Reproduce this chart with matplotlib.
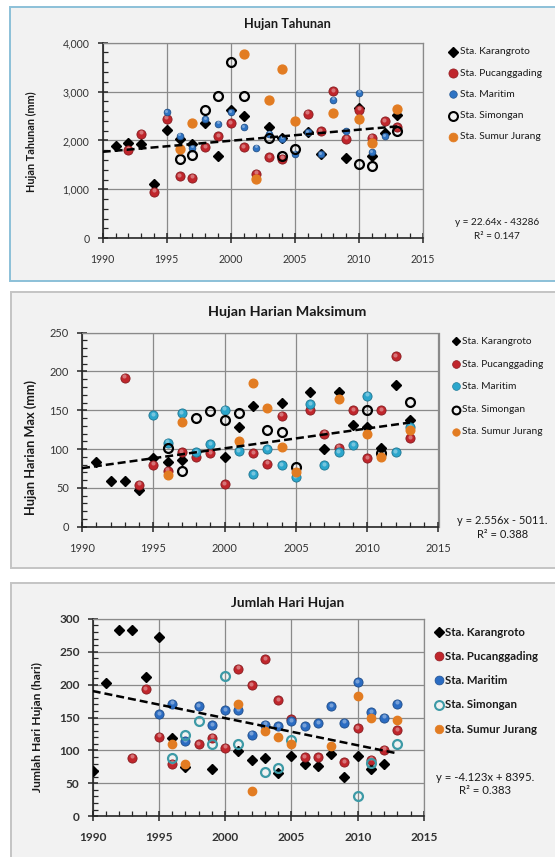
import matplotlib
matplotlib.use("Agg")
import matplotlib.pyplot as plt
from matplotlib.patches import Rectangle
from matplotlib.lines import Line2D
from matplotlib.ticker import MultipleLocator, FuncFormatter
import matplotlib.transforms as mtransforms
import numpy as np

plt.rcParams['font.family'] = ['Lato', 'DejaVu Sans']

W, H, DPI = 555, 857, 100

# ---------------- Hujan Tahunan (mm) ----------------
ht_karangroto_yr = [1991, 1992, 1993, 1994, 1995, 1996, 1997, 1998, 1999, 2000, 2001, 2003, 2004,
                    2006, 2007, 2009, 2010, 2011, 2012, 2013]
ht_karangroto = [1884, 1945, 1932, 1114, 2204, 2034, 1918, 2354, 1680, 2613, 2491, 2273, 2048,
                 2170, 1727, 1646, 2668, 1673, 2150, 2511]
ht_pucang_yr = [1992, 1993, 1994, 1995, 1996, 1997, 1998, 1999, 2000, 2001, 2002, 2003, 2004,
                2006, 2007, 2008, 2009, 2010, 2011, 2012, 2013]
ht_pucang = [1809, 2136, 950, 2443, 1271, 1237, 1864, 2089, 2354, 1864, 1318, 1659, 1625,
             2545, 2191, 3002, 2034, 2627, 2055, 2395, 2273]
ht_maritim_yr = [1995, 1996, 1997, 1998, 1999, 2000, 2001, 2002, 2003, 2004, 2005, 2006, 2007,
                 2008, 2009, 2010, 2011, 2012]
ht_maritim = [2579, 2095, 1850, 2429, 2341, 2579, 2273, 1850, 2136, 2034, 1727, 2170, 1714,
              2832, 2191, 2975, 1761, 2082]
ht_simongan_yr = [1996, 1997, 1998, 1999, 2000, 2001, 2003, 2004, 2005, 2010, 2011, 2013]
ht_simongan = [1625, 1693, 2613, 2900, 3602, 2900, 2055, 1673, 1830, 1509, 1468, 2191]
ht_sumur_yr = [1996, 1997, 2001, 2002, 2003, 2004, 2005, 2008, 2010, 2011, 2013]
ht_sumur = [1830, 2361, 3759, 1216, 2832, 3452, 2395, 2559, 2429, 1952, 2648]
ht_trend = (22.64, -43286)
ht_r2 = 0.147

# ---------------- Hujan Harian Maksimum (mm) ----------------
hm_karangroto_yr = [1991, 1992, 1993, 1994, 1995, 1996, 1997, 2000, 2001, 2002, 2004, 2006, 2007,
                    2008, 2009, 2010, 2011, 2012, 2013]
hm_karangroto = [83, 59, 59, 47, 88, 83, 86, 90, 128, 156, 160, 174, 100,
                 174, 131, 128, 101, 183, 137]
hm_pucang_yr = [1993, 1994, 1995, 1996, 1997, 1998, 1999, 2000, 2002, 2003, 2004, 2006, 2007,
                2008, 2009, 2010, 2011, 2012, 2013]
hm_pucang = [192, 54, 80, 72, 96, 90, 95, 55, 95, 81, 143, 150, 120,
             102, 150, 88, 150, 220, 114]
hm_maritim_yr = [1995, 1996, 1997, 1998, 1999, 2000, 2001, 2002, 2003, 2004, 2005, 2006, 2007,
                 2008, 2009, 2010, 2012, 2013]
hm_maritim = [144, 108, 146, 96, 106, 151, 97, 68, 100, 79, 64, 158, 79,
              96, 105, 169, 96, 128]
hm_simongan_yr = [1996, 1997, 1998, 1999, 2000, 2001, 2003, 2004, 2005, 2010, 2011, 2013]
hm_simongan = [102, 72, 140, 149, 137, 146, 125, 122, 77, 150, 95, 161]
hm_sumur_yr = [1996, 1997, 2001, 2002, 2003, 2004, 2005, 2008, 2010, 2011, 2013]
hm_sumur = [66, 135, 110, 185, 153, 103, 71, 165, 120, 90, 125]
hm_trend = (2.556, -5011)
hm_r2 = 0.388

# ---------------- Jumlah Hari Hujan (hari) ----------------
jh_karangroto_yr = [1990, 1991, 1992, 1993, 1994, 1995, 1996, 1997, 1999, 2001, 2002, 2003, 2004,
                    2005, 2006, 2007, 2008, 2009, 2010, 2011, 2012]
jh_karangroto = [69, 203, 283, 283, 212, 272, 119, 75, 72, 99, 85, 88, 66,
                 92, 80, 77, 95, 60, 91, 71, 79]
jh_pucang_yr = [1993, 1994, 1995, 1996, 1998, 1999, 2000, 2001, 2002, 2003, 2004, 2005, 2006,
                2007, 2009, 2010, 2011, 2012, 2013]
jh_pucang = [89, 193, 121, 80, 109, 119, 104, 224, 199, 239, 176, 147, 90,
             90, 82, 134, 86, 101, 131]
jh_maritim_yr = [1995, 1996, 1997, 1998, 1999, 2000, 2001, 2002, 2003, 2004, 2005, 2006, 2007,
                 2008, 2009, 2010, 2011, 2012, 2013]
jh_maritim = [155, 171, 114, 167, 138, 161, 161, 124, 139, 137, 144, 137, 141,
              167, 142, 204, 158, 150, 171]
jh_simongan_yr = [1996, 1997, 1998, 1999, 2000, 2001, 2003, 2004, 2005, 2010, 2011, 2013]
jh_simongan = [88, 124, 144, 110, 213, 109, 67, 73, 116, 30, 81, 110]
jh_sumur_yr = [1996, 1997, 2001, 2002, 2003, 2004, 2005, 2008, 2010, 2011, 2013]
jh_sumur = [109, 80, 171, 38, 129, 120, 109, 106, 182, 150, 146]
jh_trend = (-4.123, 8395)
jh_r2 = 0.383

station_names = ["Sta. Karangroto", "Sta. Pucanggading", "Sta. Maritim",
                 "Sta. Simongan", "Sta. Sumur Jurang"]

RED = "#c0262c"
ORANGE = "#e27c22"
BLACK = "#000000"

fig = plt.figure(figsize=(W / DPI, H / DPI), dpi=DPI)
fig.patch.set_facecolor("white")


def fx(px):
    return px / W


def fy(py):
    return 1 - py / H


def panel_frame(x0, y0, x1, y1, edge):
    fig.add_artist(Rectangle((fx(x0), fy(y1)), fx(x1) - fx(x0), fy(y0) - fy(y1),
                             transform=fig.transFigure, facecolor="#f2f2f2",
                             edgecolor=edge, linewidth=1.4, zorder=-10))


def lighten(c, f):
    r, g, b = matplotlib.colors.to_rgb(c)
    return (r + (1 - r) * f, g + (1 - g) * f, b + (1 - b) * f)


def darken(c, f):
    r, g, b = matplotlib.colors.to_rgb(c)
    return (r * f, g * f, b * f)


def series(ax, x, y, kind, color, size):
    """kind: diamond, sphere, flat, ring"""
    if kind == "diamond":
        ax.plot(x, y, ls="none", marker="D", ms=size, mfc=color, mec=color, zorder=3)
    elif kind == "sphere":
        ax.plot(x, y, ls="none", marker="o", ms=size, mfc=color,
                mec=darken(color, 0.7), mew=0.6, zorder=3)
        hl = mtransforms.offset_copy(ax.transData, fig=fig, x=-0.4, y=1.4, units="dots")
        ax.plot(x, y, ls="none", marker="o", ms=size * 0.45, mfc=lighten(color, 0.45),
                mec="none", alpha=0.8, transform=hl, zorder=3)
    elif kind == "flat":
        ax.plot(x, y, ls="none", marker="o", ms=size, mfc=color, mec=color, zorder=3)
    elif kind == "ring":
        ax.plot(x, y, ls="none", marker="o", ms=size, mfc="none", mec=color,
                mew=1.6, zorder=3)


def legend_entry(xm, xt, y, kind, color, size, label, fsize, weight):
    tr = fig.transFigure
    if kind == "diamond":
        fig.add_artist(Line2D([fx(xm)], [fy(y)], transform=tr, ls="none", marker="D",
                              ms=size * 0.8, mfc=color, mec=color))
    elif kind == "ring":
        fig.add_artist(Line2D([fx(xm)], [fy(y)], transform=tr, ls="none", marker="o",
                              ms=size, mfc="none", mec=color, mew=1.5))
    else:
        fig.add_artist(Line2D([fx(xm)], [fy(y)], transform=tr, ls="none", marker="o",
                              ms=size, mfc=color,
                              mec=darken(color, 0.75) if kind == "sphere" else color,
                              mew=0.5))
    fig.text(fx(xt), fy(y), label, ha="left", va="center", fontsize=fsize,
             fontweight=weight, color="#1a1a1a")


def make_axes(x0, y0, x1, y1, ymax, ymajor, yminor, fmt, tick_fs, tick_weight):
    ax = fig.add_axes([fx(x0), fy(y1), fx(x1) - fx(x0), fy(y0) - fy(y1)])
    ax.set_facecolor("#f2f2f2")
    ax.set_xlim(1990, 2015)
    ax.set_ylim(0, ymax)
    ax.xaxis.set_major_locator(MultipleLocator(5))
    ax.xaxis.set_minor_locator(MultipleLocator(1))
    ax.yaxis.set_major_locator(MultipleLocator(ymajor))
    ax.yaxis.set_minor_locator(MultipleLocator(yminor))
    ax.yaxis.set_major_formatter(FuncFormatter(fmt))
    ax.grid(True, which="major", color="#8a8a8a", linewidth=0.9)
    ax.set_axisbelow(True)
    for s in ("top", "right"):
        ax.spines[s].set_color("#8a8a8a")
        ax.spines[s].set_linewidth(0.9)
    for s in ("left", "bottom"):
        ax.spines[s].set_color("#262626")
        ax.spines[s].set_linewidth(1.2)
    ax.tick_params(which="major", direction="inout", length=7, width=1.1, color="#262626",
                   labelsize=tick_fs, labelcolor="#333333")
    ax.tick_params(which="minor", direction="in", length=3.5, width=0.9, color="#262626")
    ax.tick_params(axis="x", which="major", pad=8)
    ax.tick_params(axis="y", which="major", pad=6)
    for lab in ax.get_xticklabels() + ax.get_yticklabels():
        lab.set_fontweight(tick_weight)
    return ax


def trend(ax, coef):
    xs = np.array([1990, 2013])
    ax.plot(xs, coef[0] * xs + coef[1], ls=(0, (3.2, 1.6)), color="black", lw=1.8, zorder=4)


# ===== Panel 1: Hujan Tahunan =====
panel_frame(9.6, 6.7, 562, 280.7, "#8cc0d8")
ax1 = make_axes(102.7, 42.7, 423, 238.2, 4000, 1000, 200,
                lambda v, p: f"{int(v):,}", 7.6, "normal")
BLUE1 = "#2f74c4"
series(ax1, ht_karangroto_yr, ht_karangroto, "diamond", BLACK, 5.2)
series(ax1, ht_pucang_yr, ht_pucang, "sphere", RED, 6.6)
series(ax1, ht_maritim_yr, ht_maritim, "sphere", BLUE1, 4.8)
series(ax1, ht_simongan_yr, ht_simongan, "ring", BLACK, 6.4)
series(ax1, ht_sumur_yr, ht_sumur, "flat", ORANGE, 6.4)
trend(ax1, ht_trend)
fig.text(fx(287.4), fy(24), "Hujan Tahunan", ha="center", va="center",
         fontsize=9.2, fontweight="bold", color="#1a1a1a")
fig.text(fx(31.9), fy(142), "Hujan Tahunan (mm)", ha="center", va="center",
         rotation=90, fontsize=7.8, fontweight="bold", color="#1a1a1a")
p1_kinds = [("diamond", BLACK, 6.0), ("sphere", RED, 6.6), ("sphere", BLUE1, 5.4),
            ("ring", BLACK, 6.4), ("flat", ORANGE, 6.4)]
for (k, c, s), name, yy in zip(p1_kinds, station_names, [51.7, 73, 94.3, 115.7, 136.7]):
    legend_entry(453, 459.5, yy, k, c, s, name, 7.4, "normal")
fig.text(fx(497), fy(222.7), f"y = {ht_trend[0]}x - {abs(ht_trend[1])}", ha="center",
         va="center", fontsize=7.2, color="#1a1a1a")
fig.text(fx(497), fy(236.7), f"R² = {ht_r2}", ha="center", va="center",
         fontsize=7.2, color="#1a1a1a")

# ===== Panel 2: Hujan Harian Maksimum =====
panel_frame(10.6, 292.3, 562, 568.3, "#c4c4c4")
ax2 = make_axes(82, 332.7, 438.5, 526.7, 250, 50, 10,
                lambda v, p: f"{int(v)}", 7.9, "normal")
CYAN = "#2ba6cc"
series(ax2, hm_karangroto_yr, hm_karangroto, "diamond", BLACK, 5.2)
series(ax2, hm_pucang_yr, hm_pucang, "sphere", RED, 6.6)
series(ax2, hm_maritim_yr, hm_maritim, "sphere", CYAN, 6.6)
series(ax2, hm_simongan_yr, hm_simongan, "ring", BLACK, 6.4)
series(ax2, hm_sumur_yr, hm_sumur, "flat", ORANGE, 6.2)
trend(ax2, hm_trend)
fig.text(fx(287.4), fy(311.7), "Hujan Harian Maksimum", ha="center", va="center",
         fontsize=10.4, fontweight="bold", color="#1a1a1a")
fig.text(fx(31), fy(447.5), "Hujan Harian Max (mm)", ha="center", va="center",
         rotation=90, fontsize=9.2, fontweight="bold", color="#1a1a1a")
p2_kinds = [("diamond", BLACK, 5.6), ("sphere", RED, 5.6), ("sphere", CYAN, 5.6),
            ("ring", BLACK, 5.6), ("flat", ORANGE, 5.4)]
for (k, c, s), name, yy in zip(p2_kinds, station_names, [341, 364.3, 386.3, 409.7, 431.7]):
    legend_entry(456, 462, yy, k, c, s, name, 7.3, "normal")
fig.text(fx(502.6), fy(520), f"y = {hm_trend[0]}x - {abs(hm_trend[1])}.", ha="center",
         va="center", fontsize=8, color="#1a1a1a")
fig.text(fx(502.6), fy(534.3), f"R² = {hm_r2}", ha="center", va="center",
         fontsize=8, color="#1a1a1a")

# ===== Panel 3: Jumlah Hari Hujan =====
panel_frame(10.7, 583.3, 562, 870, "#c4c4c4")
ax3 = make_axes(92.7, 618.8, 424, 816.2, 300, 50, 10,
                lambda v, p: f"{int(v)}", 8.6, "bold")
BLUE3 = "#2b6cc2"
TEAL = "#3d9aa6"
series(ax3, jh_karangroto_yr, jh_karangroto, "diamond", BLACK, 5.2)
series(ax3, jh_pucang_yr, jh_pucang, "sphere", RED, 6.6)
series(ax3, jh_maritim_yr, jh_maritim, "sphere", BLUE3, 6.6)
series(ax3, jh_simongan_yr, jh_simongan, "ring", TEAL, 6.4)
series(ax3, jh_sumur_yr, jh_sumur, "flat", ORANGE, 6.0)
trend(ax3, jh_trend)
fig.text(fx(287.4), fy(603.3), "Jumlah Hari Hujan", ha="center", va="center",
         fontsize=9.9, fontweight="bold", color="#1a1a1a")
fig.text(fx(37), fy(727), "Jumlah Hari Hujan (hari)", ha="center", va="center",
         rotation=90, fontsize=8.7, fontweight="bold", color="#1a1a1a")
p3_kinds = [("diamond", BLACK, 6.0), ("sphere", RED, 6.4), ("sphere", BLUE3, 6.4),
            ("ring", TEAL, 6.4), ("flat", ORANGE, 6.2)]
for (k, c, s), name, yy in zip(p3_kinds, station_names, [632.3, 656, 680.3, 705, 729.3]):
    legend_entry(439, 445, yy, k, c, s, name, 8.2, "bold")
fig.text(fx(485), fy(777.7), f"y = {jh_trend[0]}x + {jh_trend[1]}.", ha="center",
         va="center", fontsize=8.2, color="#1a1a1a")
fig.text(fx(485), fy(791), f"R² = {jh_r2}", ha="center", va="center",
         fontsize=8.2, color="#1a1a1a")

fig.savefig("out.png", dpi=DPI, facecolor="white")
